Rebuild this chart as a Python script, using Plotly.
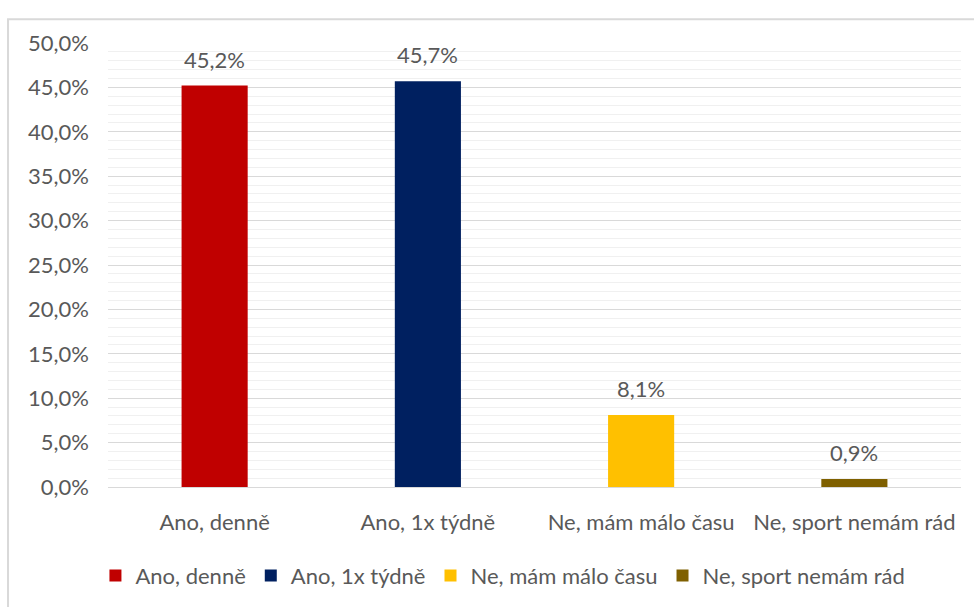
import plotly.graph_objects as go

# Survey answers and their shares (percent)
categories = ["Ano, denně", "Ano, 1x týdně", "Ne, mám málo času", "Ne, sport nemám rád"]
shares = [45.2, 45.7, 8.1, 0.9]
colors = ["#C00000", "#002060", "#FFC000", "#7F6000"]

y_ticks = [0, 5, 10, 15, 20, 25, 30, 35, 40, 45, 50]
y_tick_text = [f"{v:.1f}%".replace(".", ",") for v in y_ticks]

FONT = "Lato, 'Noto Sans', sans-serif"
TEXT = "#595959"
FS = 22

fig = go.Figure()
for i, (cat, val, col) in enumerate(zip(categories, shares, colors)):
    fig.add_trace(go.Bar(
        x=[cat], y=[val], name=cat, legendgroup=f"g{i}",
        marker=dict(color=col, line=dict(width=0)),
        width=0.31,
    ))
    fig.add_annotation(
        x=cat, y=val, text=f"{val:.1f}%".replace(".", ","),
        showarrow=False, yanchor="bottom", yshift=11,
        font=dict(family=FONT, size=FS, color=TEXT),
    )

fig.update_layout(
    width=974, height=607,
    margin=dict(l=108, r=13, t=43, b=119),
    paper_bgcolor="white", plot_bgcolor="white",
    barmode="overlay",
    font=dict(family=FONT, size=FS, color=TEXT),
    showlegend=True,
    legend=dict(
        orientation="h", x=0.463, xanchor="center", y=-0.197, yanchor="middle",
        font=dict(family=FONT, size=FS, color=TEXT),
        itemwidth=30, traceorder="normal", tracegroupgap=14,
    ),
    shapes=[dict(
        type="rect", xref="paper", yref="paper",
        x0=-0.1172, x1=1.03, y0=-0.30, y1=1.0535,
        line=dict(color="#d9d9d9", width=2), fillcolor="rgba(0,0,0,0)",
        layer="below",
    )],
)

fig.update_xaxes(
    showline=False, showgrid=False, ticks="",
    tickfont=dict(family=FONT, size=FS, color=TEXT),
    ticklabelstandoff=20,
)
fig.update_yaxes(
    range=[0, 50], tickvals=y_ticks, ticktext=y_tick_text,
    showgrid=True, gridcolor="#d9d9d9", gridwidth=1,
    zeroline=True, zerolinecolor="#d9d9d9", zerolinewidth=1,
    minor=dict(dtick=1, showgrid=True, gridcolor="#f0f0f0", gridwidth=1),
    showline=False, ticks="",
    tickfont=dict(family=FONT, size=FS, color=TEXT),
    ticklabelstandoff=18,
)

fig.write_html("out.html")
